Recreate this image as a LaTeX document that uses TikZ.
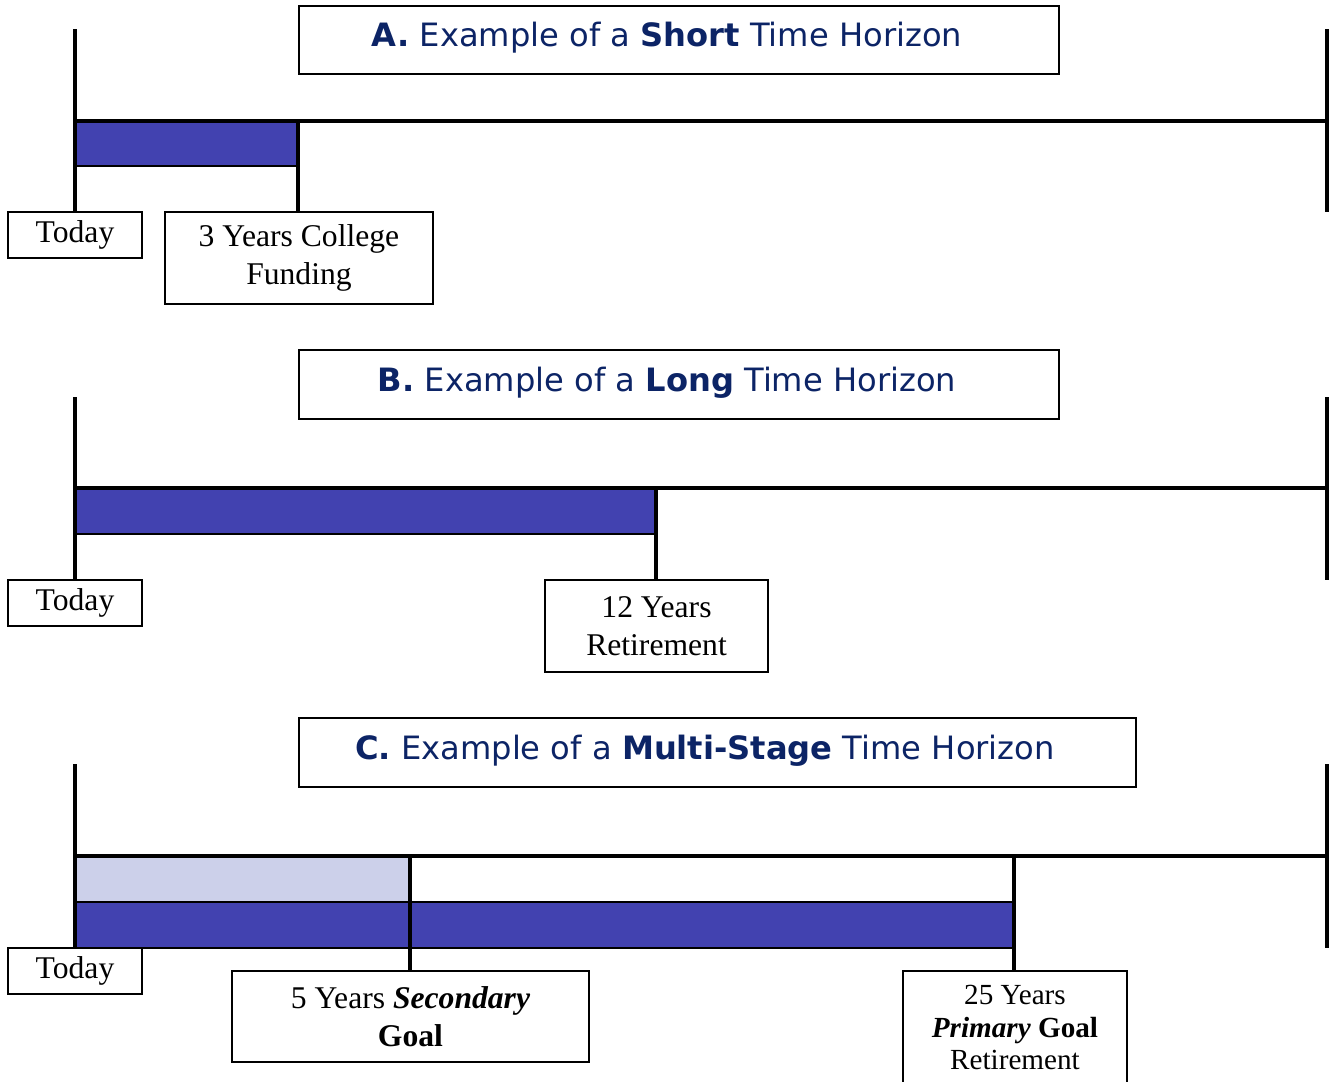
\documentclass[tikz,border=0pt]{standalone}
\usepackage{fontspec}
\setmainfont{Liberation Serif}
\newfontfamily\titlefont{DejaVu Sans}
\definecolor{barblue}{RGB}{66,66,176}
\definecolor{barlight}{RGB}{204,208,234}
\definecolor{navy}{RGB}{12,36,102}
\begin{document}
\begin{tikzpicture}[x=0.02cm,y=-0.02cm,
  axisline/.style={line width=2.3pt},
  barfill/.style={draw, line width=1pt, fill=barblue},
  barlite/.style={draw, line width=1pt, fill=barlight},
  tbox/.style={draw, line width=1.1pt, inner sep=0pt, align=center, fill=white,
    font=\fontsize{18}{21.5}\selectfont},
  sbox/.style={tbox, font=\fontsize{16.6}{18.7}\selectfont},
  titlebox/.style={draw, line width=1.1pt, inner sep=0pt, minimum height=1.37cm},
  titletext/.style={inner sep=0pt, text=navy, font=\titlefont\fontsize{18.3}{21}\selectfont}
]
\useasboundingbox (0,0) rectangle (1330,1082);

% ---------------- Panel A ----------------
\draw[barfill] (75,121) rectangle (298,166);
\coordinate (Atop) at (75,29);
\coordinate (Aaxl) at (75,121);
\coordinate (Aaxr) at (1328,121);
\coordinate (Artop) at (1327,29);
\coordinate (Arbot) at (1327,212);
\coordinate (Am1) at (298,121);
\node[titlebox, minimum width=15.2cm] (titleA) at (679,40) {};
\node[titletext] (titleAtext) at (667,38) {\textbf{A.} Example of a \textbf{Short} Time Horizon};
\node[tbox, minimum width=2.68cm, minimum height=0.92cm] (todayA) at (75,235) {Today};
\node[tbox, minimum width=5.36cm, minimum height=1.84cm] (fundA) at (299,258) {3 Years College\\Funding};
\draw[axisline] (Aaxl) -- (Aaxr);
\draw[axisline] (Atop) -- (todayA.north);
\draw[axisline] (Artop) -- (Arbot);
\draw[axisline] (Am1) -- (fundA.north -| Am1);

% ---------------- Panel B ----------------
\draw[barfill] (75,488) rectangle (656,534);
\coordinate (Btop) at (75,397);
\coordinate (Baxl) at (75,488);
\coordinate (Baxr) at (1328,488);
\coordinate (Brtop) at (1327,397);
\coordinate (Brbot) at (1327,580);
\coordinate (Bm1) at (656,488);
\node[titlebox, minimum width=15.2cm] (titleB) at (679,384.5) {};
\node[titletext] (titleBtext) at (667,383) {\textbf{B.} Example of a \textbf{Long} Time Horizon};
\node[tbox, minimum width=2.68cm, minimum height=0.92cm] (todayB) at (75,603) {Today};
\node[tbox, minimum width=4.46cm, minimum height=1.84cm] (retB) at (656.5,626) {12 Years\\Retirement};
\draw[axisline] (Baxl) -- (Baxr);
\draw[axisline] (Btop) -- (todayB.north);
\draw[axisline] (Brtop) -- (Brbot);
\draw[axisline] (Bm1) -- (retB.north -| Bm1);

% ---------------- Panel C ----------------
\draw[barlite] (75,856) rectangle (410,902);
\draw[barfill] (75,902) rectangle (1014,948);
\coordinate (Ctop) at (75,764);
\coordinate (Caxl) at (75,856);
\coordinate (Caxr) at (1328,856);
\coordinate (Crtop) at (1327,764);
\coordinate (Crbot) at (1327,948);
\coordinate (Cm1) at (410,856);
\coordinate (Cm2) at (1014,856);
\node[titlebox, minimum width=16.74cm] (titleC) at (717.5,752.5) {};
\node[titletext] (titleCtext) at (705,751) {\textbf{C.} Example of a \textbf{Multi-Stage} Time Horizon};
\node[tbox, minimum width=2.68cm, minimum height=0.92cm] (todayC) at (75,971) {Today};
\node[tbox, minimum width=7.14cm, minimum height=1.82cm] (secC) at (410.5,1016.5) {5 Years \textbf{\textit{Secondary}}\\\textbf{Goal}};
\node[sbox, minimum width=4.48cm, minimum height=2.26cm] (primC) at (1015,1027.5) {25 Years\\\textbf{\textit{Primary}} \textbf{Goal}\\Retirement};
\draw[axisline] (Caxl) -- (Caxr);
\draw[axisline] (Ctop) -- (todayC.north);
\draw[axisline] (Crtop) -- (Crbot);
\draw[axisline] (Cm1) -- (secC.north -| Cm1);
\draw[axisline] (Cm2) -- (primC.north -| Cm2);
\end{tikzpicture}
\end{document}
